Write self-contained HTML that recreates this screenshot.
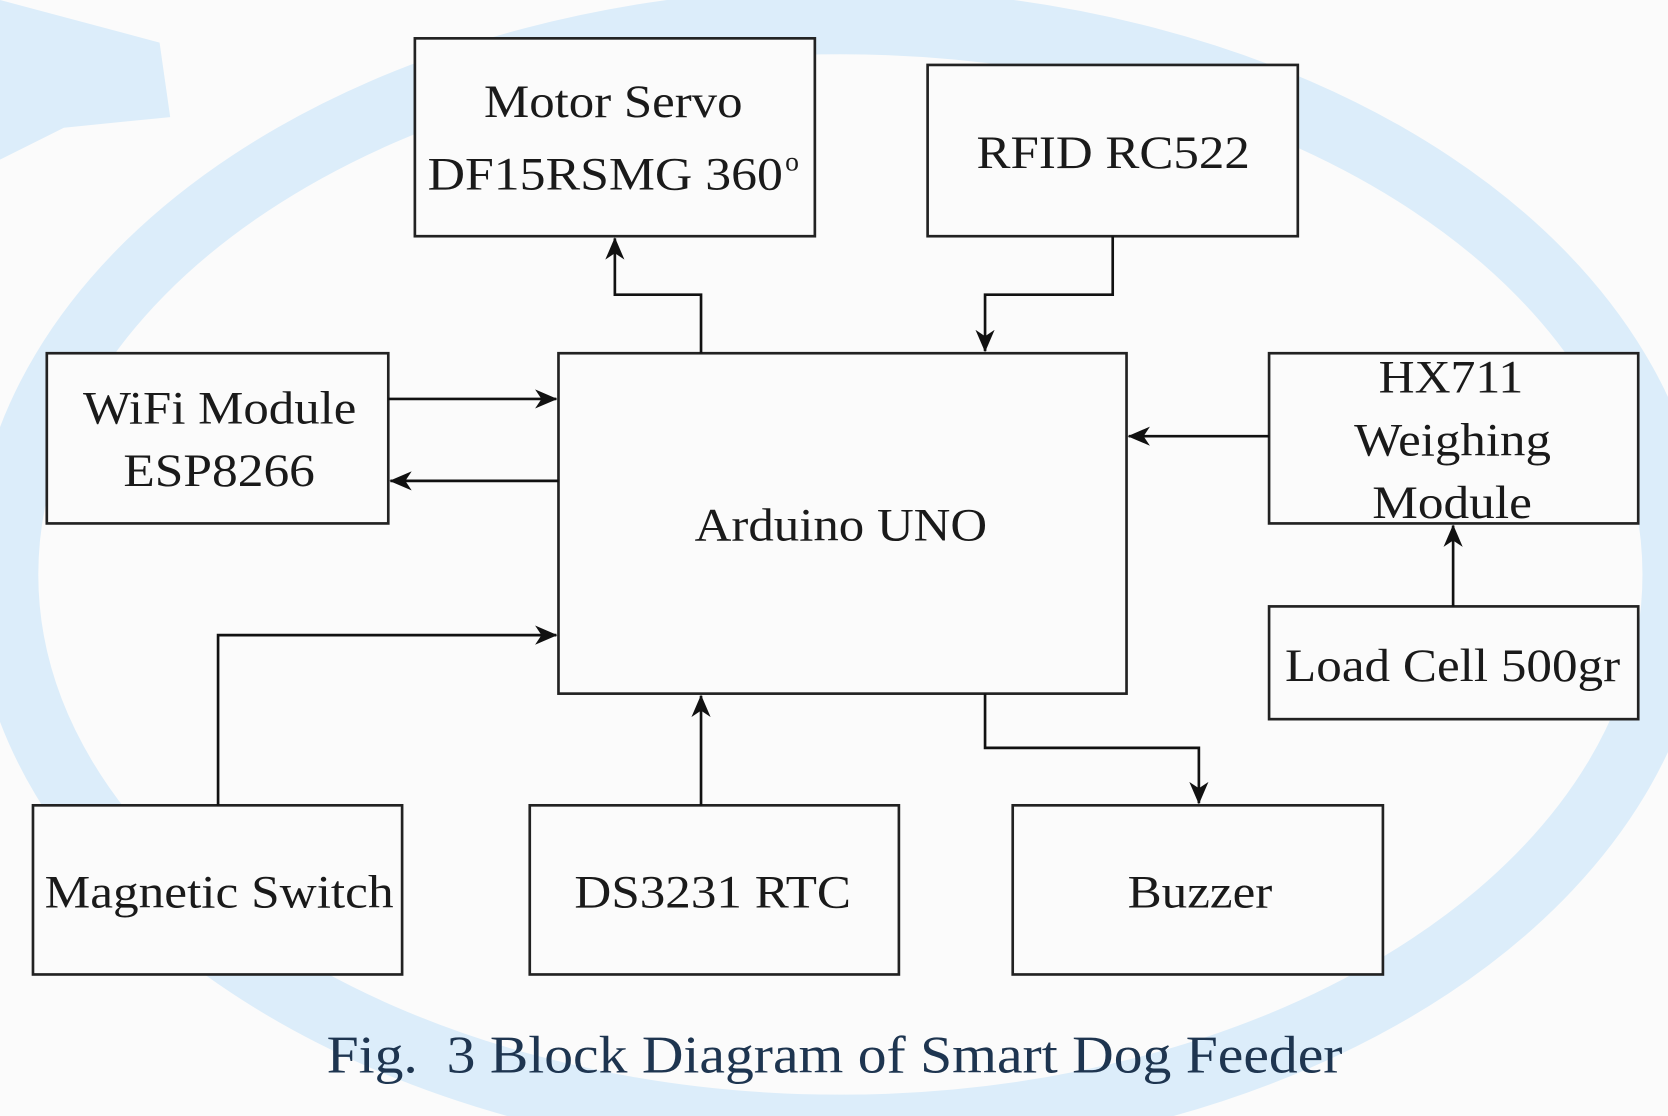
<!DOCTYPE html>
<html><head><meta charset="utf-8"><style>
html,body{margin:0;padding:0;background:#fbfbfb;width:1668px;height:1116px;overflow:hidden}
svg{display:block}
text{font-family:"Liberation Serif",serif;fill:#1a1a1a}
</style></head><body>
<svg width="1668" height="1116" viewBox="0 0 1568 1049" xmlns="http://www.w3.org/2000/svg">
<defs>
<marker id="b" markerWidth="22" markerHeight="22" refX="20" refY="11" orient="auto" markerUnits="userSpaceOnUse"><path d="M0,2 L21,11 L0,20 L6,11 z" fill="#111"/></marker></defs>
<rect width="1568" height="1049" fill="#fbfbfb"/>
<ellipse cx="790" cy="540" rx="785" ry="520" fill="none" stroke="#dcedfa" stroke-width="62"/>
<path d="M0,0 L150,40 L160,110 L60,120 L0,150 z" fill="#dcedfa"/>
<g fill="#fbfbfb" stroke="#222" stroke-width="2.5">
<rect x="390" y="36" width="376" height="186"/>
<rect x="872" y="61" width="348" height="161"/>
<rect x="44" y="332" width="321" height="160"/>
<rect x="525" y="332" width="534" height="320"/>
<rect x="1193" y="332" width="347" height="160"/>
<rect x="1193" y="570" width="347" height="106"/>
<rect x="31" y="757" width="347" height="159"/>
<rect x="498" y="757" width="347" height="159"/>
<rect x="952" y="757" width="348" height="159"/>
</g>
<g fill="none" stroke="#111" stroke-width="2.5" marker-end="url(#b)">
<polyline points="659,332 659,277 578,277 578,224"/>
<polyline points="1046,222 1046,277 926,277 926,330"/>
<polyline points="365,375 523,375"/>
<polyline points="525,452 367,452"/>
<polyline points="1193,410 1061,410"/>
<polyline points="1366,570 1366,494"/>
<polyline points="205,757 205,597 523,597"/>
<polyline points="659,757 659,654"/>
<polyline points="926,652 926,703 1127,703 1127,755"/>
</g>
<g font-size="44" lengthAdjust="spacingAndGlyphs">
<text x="455" y="110" textLength="243" lengthAdjust="spacingAndGlyphs">Motor Servo</text>
<text x="402" y="178" textLength="334" lengthAdjust="spacingAndGlyphs">DF15RSMG 360</text>
<text x="738" y="160" font-size="26">o</text>
<text x="918" y="158" textLength="257" lengthAdjust="spacingAndGlyphs">RFID RC522</text>
<text x="78" y="398" textLength="257" lengthAdjust="spacingAndGlyphs">WiFi Module</text>
<text x="116" y="457" textLength="180" lengthAdjust="spacingAndGlyphs">ESP8266</text>
<text x="653" y="508" textLength="275" lengthAdjust="spacingAndGlyphs">Arduino UNO</text>
<text x="1296" y="369" textLength="136" lengthAdjust="spacingAndGlyphs">HX711</text>
<text x="1273" y="428" textLength="185" lengthAdjust="spacingAndGlyphs">Weighing</text>
<text x="1290" y="487" textLength="150" lengthAdjust="spacingAndGlyphs">Module</text>
<text x="1208" y="640" textLength="315" lengthAdjust="spacingAndGlyphs">Load Cell 500gr</text>
<text x="42" y="853" textLength="328" lengthAdjust="spacingAndGlyphs">Magnetic Switch</text>
<text x="540" y="853" textLength="260" lengthAdjust="spacingAndGlyphs">DS3231 RTC</text>
<text x="1060" y="853" textLength="136" lengthAdjust="spacingAndGlyphs">Buzzer</text>
</g>
<text x="307" y="1008" font-size="50" textLength="955" lengthAdjust="spacingAndGlyphs" style="fill:#1e3550" xml:space="preserve">Fig.  3 Block Diagram of Smart Dog Feeder</text>
</svg>
</body></html>
